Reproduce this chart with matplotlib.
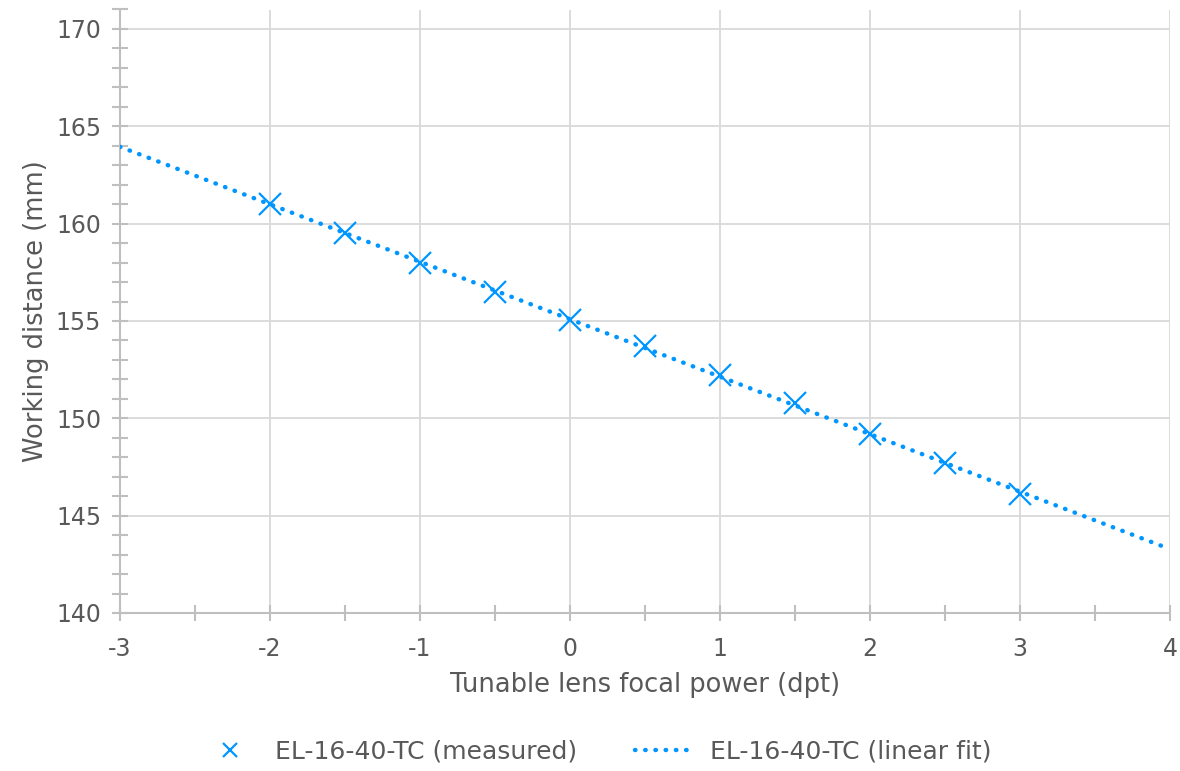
import numpy as np
import matplotlib
matplotlib.use("Agg")
import matplotlib.pyplot as plt
from matplotlib.ticker import MultipleLocator

power = [-2, -1.5, -1, -0.5, 0, 0.5, 1, 1.5, 2, 2.5, 3]
distance = [161.0, 159.5, 158.0, 156.5, 155.05, 153.7, 152.2, 150.8, 149.2, 147.7, 146.1]
fit_range = [-3, 4]

blue = "#0096ff"
text_col = "#595959"
grid_col = "#d9d9d9"
axis_col = "#bfbfbf"

plt.rcParams['font.family'] = ['DejaVu Sans']
plt.rcParams['axes.unicode_minus'] = False

fig = plt.figure(figsize=(11.8, 7.71), dpi=100)
ax = fig.add_axes([120 / 1180, 1 - 613 / 771, 1050 / 1180, (613 - 9.5) / 771])

# linear fit through the measured points
slope, icpt = np.polyfit(power, distance, 1)
fx = np.array(fit_range, dtype=float)
ax.plot(fx, slope * fx + icpt, linestyle=(0, (0.1, 2.2)), dash_capstyle='round',
        color=blue, linewidth=3.2, label="EL-16-40-TC (linear fit)", zorder=3)
ax.plot(power, distance, linestyle='none', marker='x', markersize=16,
        markeredgewidth=1.6, color=blue, label="EL-16-40-TC (measured)", zorder=4)

ax.set_xlim(-3, 4)
ax.set_ylim(140, 171)
ax.xaxis.set_major_locator(MultipleLocator(1))
ax.xaxis.set_minor_locator(MultipleLocator(0.5))
ax.yaxis.set_major_locator(MultipleLocator(5))
ax.yaxis.set_minor_locator(MultipleLocator(1))

ax.grid(True, which='major', color=grid_col, linewidth=1.3)
ax.set_axisbelow(True)
for s in ['top', 'right']:
    ax.spines[s].set_visible(False)
for s in ['left', 'bottom']:
    ax.spines[s].set_color(axis_col)
    ax.spines[s].set_linewidth(1.5)

ax.tick_params(which='both', direction='inout', length=11, width=1.5, color=axis_col,
               labelsize=17, labelcolor=text_col)
ax.tick_params(axis='x', pad=12)
ax.tick_params(axis='y', pad=8)

ax.set_xlabel("Tunable lens focal power (dpt)", fontsize=18.5, color=text_col, labelpad=8)
ax.set_ylabel("Working distance (mm)", fontsize=18.5, color=text_col, labelpad=5)

h, l = ax.get_legend_handles_labels()
fig.legend(h[::-1], l[::-1], loc='center', bbox_to_anchor=(0.505, 1 - 752 / 771), ncol=2,
           frameon=False, fontsize=18, labelcolor=text_col, columnspacing=2.3,
           handlelength=2.4, handletextpad=0.6, markerscale=0.65)

fig.savefig("out.png", dpi=100)
